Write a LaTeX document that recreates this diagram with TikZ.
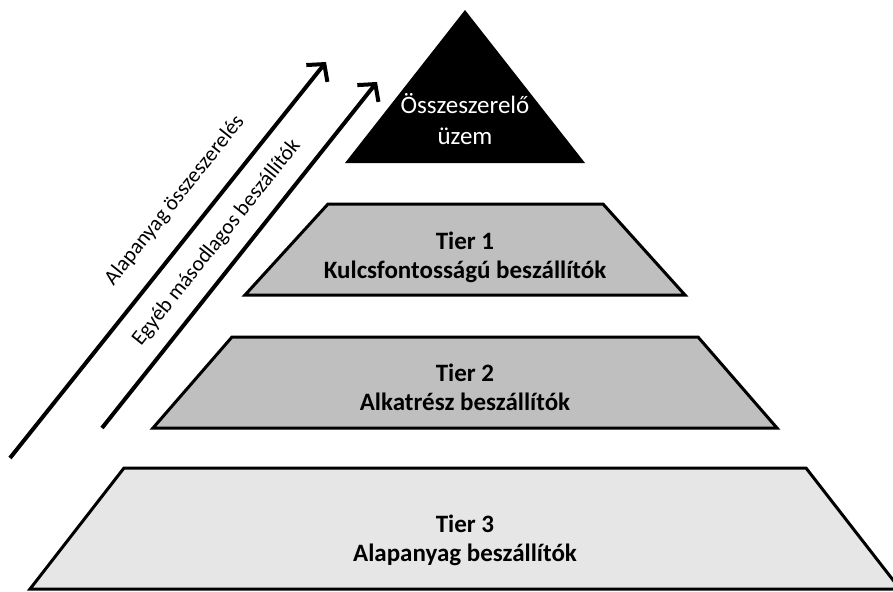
\documentclass[tikz,border=0pt]{standalone}
\usepackage{fontspec}
\setmainfont{Carlito}
\usetikzlibrary{arrows.meta}
\definecolor{tiergray}{RGB}{191,191,191}
\definecolor{tierlight}{RGB}{230,230,230}

\begin{document}
\begin{tikzpicture}[x=1pt,y=-1pt,
  every node/.style={font=\fontsize{25}{31}\selectfont},
  tier/.style={draw,line width=3pt,line join=miter},
  tiertext/.style={align=center,font=\bfseries\fontsize{25}{29}\selectfont},
  flow/.style={-{Straight Barb[length=12pt,width=27pt]},line width=4pt},
  slope/.style={sloped,font=\fontsize{21.5}{24}\selectfont}]
  \useasboundingbox (0,0) rectangle (893,591);
  % pyramid levels
  \fill (465,10) -- (585,163) -- (345,163) -- cycle;
  \draw[tier,fill=tiergray] (328,204) -- (603,204) -- (685,295) -- (245,295) -- cycle;
  \draw[tier,fill=tiergray] (232,337) -- (698,337) -- (777,428) -- (153,428) -- cycle;
  \draw[tier,fill=tierlight] (124,468) -- (806,468) -- (900,589) -- (30,589) -- cycle;
  \node[text=white,align=center] (plant) at (465,119) {Összeszerelő\\üzem};
  \node[tiertext] (tier1) at (465,257) {Tier 1\\Kulcsfontosságú beszállítók};
  \node[tiertext] (tier2) at (465,387) {Tier 2\\Alkatrész beszállítók};
  \node[tiertext] (tier3) at (465,540) {Tier 3\\Alapanyag beszállítók};
  % arrows on the left
  \coordinate (src1) at (10,458);
  \coordinate (dst1) at (326,62);
  \coordinate (src2) at (102,428);
  \coordinate (dst2) at (377,82);
  \draw[flow] (src1) -- node[slope,above=17pt,pos=0.6] (assembly) {Alapanyag összeszerelés} (dst1);
  \draw[flow] (src2) -- node[slope,above=11pt,pos=0.49] (secondary) {Egyéb másodlagos beszállítók} (dst2);
\end{tikzpicture}
\end{document}
